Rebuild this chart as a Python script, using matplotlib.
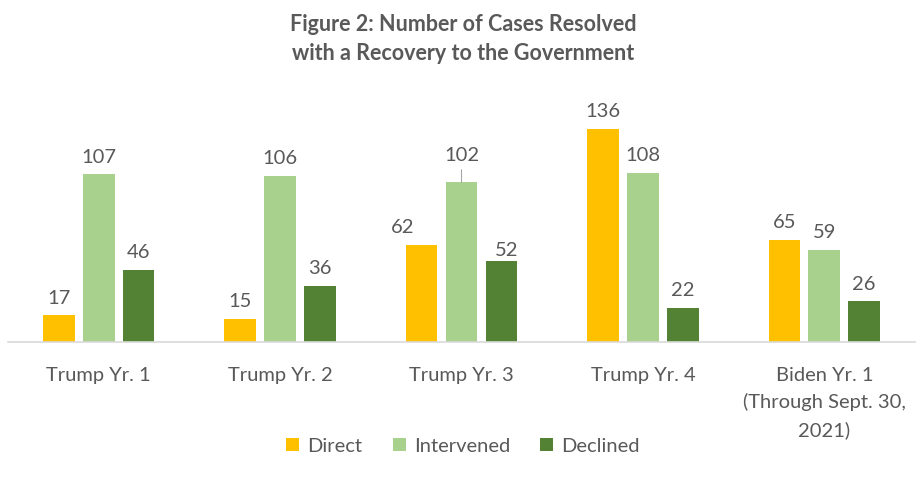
import matplotlib
matplotlib.use("Agg")
import matplotlib.pyplot as plt
import numpy as np

plt.rcParams['font.family'] = ['Lato', 'DejaVu Sans']

years = ["Trump Yr. 1", "Trump Yr. 2", "Trump Yr. 3", "Trump Yr. 4",
         "Biden Yr. 1\n(Through Sept. 30,\n2021)"]
direct = [17, 15, 62, 136, 65]
intervened = [107, 106, 102, 108, 59]
declined = [46, 36, 52, 22, 26]

series = [("Direct", direct, "#FFC000"),
          ("Intervened", intervened, "#A9D18E"),
          ("Declined", declined, "#548235")]

# label nudges (points) where the labels were dragged off-centre
nudge = {(0, 2): (-14, 0), (2, 2): (4, -5)}
leader = {(1, 2): 14}

txt = "#595959"
fs = 14.5
fig = plt.figure(figsize=(9.17, 4.85), dpi=100)
ax = fig.add_axes([8 / 917, 142 / 485, 907 / 917, 250.6 / 485])

x = np.arange(len(years))
w = 0.175
step = 0.22
for i, (name, vals, col) in enumerate(series):
    pos = x + (i - 1) * step
    ax.bar(pos, vals, w, color=col, label=name, zorder=2)
    for j, (p, v) in enumerate(zip(pos, vals)):
        if (i, j) in leader:
            up = leader[(i, j)]
            ax.annotate(str(v), xy=(p, v), xytext=(0, up), textcoords="offset points",
                        ha="center", va="bottom", fontsize=fs, color=txt,
                        arrowprops=dict(arrowstyle="-", color="#A6A6A6", lw=0.8,
                                        shrinkA=3, shrinkB=0))
            continue
        dx, dy = nudge.get((i, j), (0, 0))
        ax.annotate(str(v), xy=(p, v), xytext=(dx, 7 + dy), textcoords="offset points",
                    ha="center", va="bottom", fontsize=fs, color=txt)

ax.set_ylim(0, 160)
ax.set_xlim(-0.5, len(years) - 0.5)
ax.set_xticks(x)
ax.set_xticklabels(years, fontsize=fs, color=txt, linespacing=1.65, va="top")
ax.tick_params(axis="x", length=0, pad=17)
ax.set_yticks([])
for s in ["top", "right", "left"]:
    ax.spines[s].set_visible(False)
ax.spines["bottom"].set_color("#D9D9D9")
ax.spines["bottom"].set_linewidth(1.2)

fig.text(0.505, 1 - 14 / 485, "Figure 2: Number of Cases Resolved\nwith a Recovery to the Government",
         ha="center", va="top", fontsize=15.5, fontweight="bold", color=txt, linespacing=1.5)

fig.legend(loc="center", bbox_to_anchor=(0.505, 1 - 447 / 485), ncol=3, frameon=False,
           fontsize=fs, handlelength=0.65, handleheight=0.65, handletextpad=0.4,
           columnspacing=1.5, labelcolor=txt)

fig.savefig("out.png", dpi=100)
